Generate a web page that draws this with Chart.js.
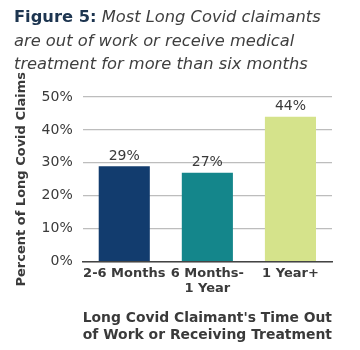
<!DOCTYPE html>
<html>
<head>
<meta charset="utf-8">
<script src="https://cdn.jsdelivr.net/npm/chart.js@4"></script>
<style>
    html, body { margin: 0; padding: 0; background: #fff; }
    #wrap { position: relative; width: 360px; height: 350px; overflow: hidden; }
    #box { position: absolute; left: 0; top: 0; width: 360px; height: 350px; }
    #title {
        position: absolute; left: 14px; top: 5px; width: 346px; white-space: nowrap;
        font-family: "DejaVu Sans", sans-serif; font-size: 16.3px; line-height: 23.5px;
        color: #3f3f3f; font-style: italic;
    }
    #title b { font-style: normal; color: #1d3550; }
</style>
</head>
<body>
<div id="wrap">
    <div id="box"><canvas id="chart"></canvas></div>
    <div id="title"><b>Figure 5:</b> Most Long Covid claimants<br>are out of work or receive medical<br>treatment for more than six months</div>
</div>
<script>
const categories = [['2-6 Months'], ['6 Months-', '1 Year'], ['1 Year+']];
const claimShare = [29, 27, 44];
const barColors = ['#123c6e', '#14868b', '#d5e38b'];
const yTicks = [0, 10, 20, 30, 40, 50];

const FONT = '"DejaVu Sans", sans-serif';

// value labels above the bars
const valueLabels = {
    id: 'valueLabels',
    afterDatasetsDraw(chart) {
        const { ctx } = chart;
        const meta = chart.getDatasetMeta(0);
        ctx.save();
        ctx.font = '14px ' + FONT;
        ctx.fillStyle = '#3a3a3a';
        ctx.textAlign = 'center';
        ctx.textBaseline = 'bottom';
        meta.data.forEach((bar, i) => {
            ctx.fillText(claimShare[i] + '%', bar.x, bar.y - 3);
        });
        ctx.restore();
    }
};

new Chart(document.getElementById('chart'), {
    type: 'bar',
    data: {
        labels: categories,
        datasets: [{
            data: claimShare,
            backgroundColor: barColors,
            categoryPercentage: 1,
            barPercentage: 0.615
        }]
    },
    options: {
        responsive: true,
        maintainAspectRatio: false,
        animation: false,
        layout: { padding: { top: 97, right: 28, left: 14, bottom: 0 } },
        plugins: { legend: { display: false }, tooltip: { enabled: false } },
        scales: {
            x: {
                grid: { display: false, drawTicks: false },
                border: { color: '#444', width: 1.5 },
                ticks: {
                    color: '#3a3a3a', autoSkip: false, maxRotation: 0, padding: 4,
                    font: { family: FONT, size: 13, weight: 'bold', lineHeight: 1.2 }
                },
                title: {
                    display: true,
                    text: ["Long Covid Claimant's Time Out", 'of Work or Receiving Treatment'],
                    color: '#3a3a3a',
                    font: { family: FONT, size: 14, weight: 'bold', lineHeight: 1.15 },
                    padding: { top: 10, bottom: 7 }
                }
            },
            y: {
                min: 0,
                max: 50,
                afterBuildTicks(axis) { axis.ticks = yTicks.map(v => ({ value: v })); },
                grid: { color: '#bdbdbd', lineWidth: 1.2, drawTicks: false },
                border: { display: false },
                ticks: { color: '#3a3a3a', font: { family: FONT, size: 14 }, padding: 10, callback: v => v + '%' },
                title: {
                    display: true,
                    text: 'Percent of Long Covid Claims',
                    color: '#3a3a3a',
                    font: { family: FONT, size: 13, weight: 'bold' },
                    padding: { top: 0, bottom: 2 }
                }
            }
        }
    },
    plugins: [valueLabels]
});
</script>
</body>
</html>
